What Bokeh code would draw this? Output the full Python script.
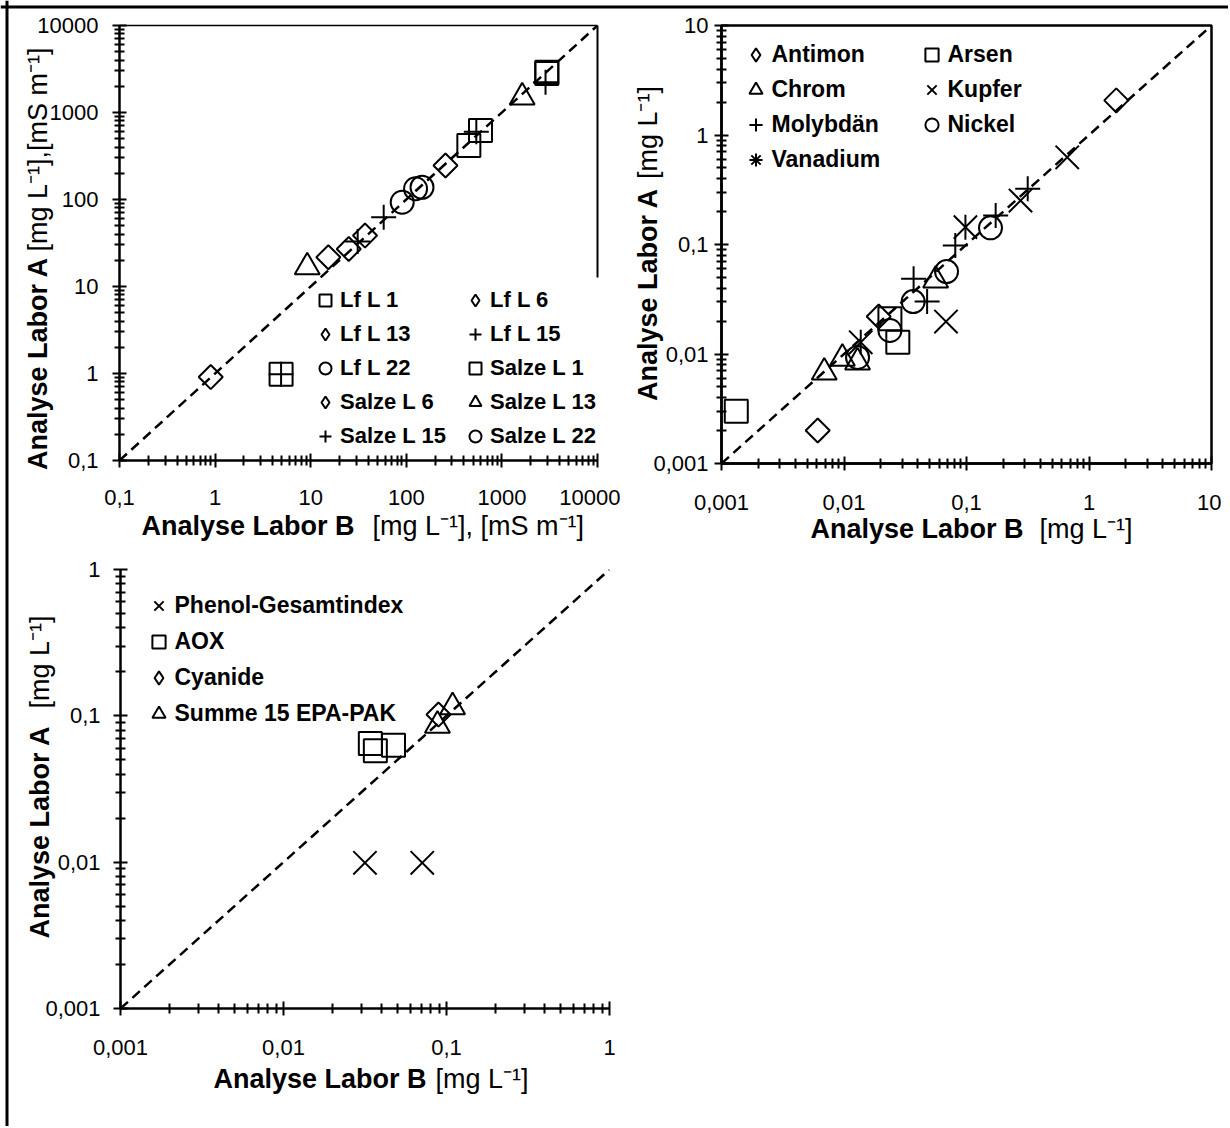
import numpy as np
from bokeh.plotting import figure
from bokeh.models import (Range1d, FixedTicker, CustomJSTickFormatter, LogAxis,
                          Legend, LegendItem, Label, Span)
from bokeh.layouts import row, column
from bokeh.embed import file_html
from bokeh.resources import INLINE

FONT = "Liberation Sans"
SUP = "\u207b\u00b9"

# ---------------- data: panel 1 ----------------
p1_range = [0.1, 10000]
p1_majors = [0.1, 1, 10, 100, 1000, 10000]
lf_l1_x = [2950];            lf_l1_y = [2900]
lf_l6_x = [257];             lf_l6_y = [246]
lf_l13_x = [37];             lf_l13_y = [38.5]
lf_l15_x = [2860];           lf_l15_y = [2230]
lf_l22_x = [146];            lf_l22_y = [138]
salze_l1_x = [2950, 597, 451, 4.9];   salze_l1_y = [2800, 621, 418, 0.98]
salze_l6_x = [25, 15.3, 0.9];         salze_l6_y = [27, 21.7, 0.91]
salze_l13_x = [1630, 9.2];            salze_l13_y = [1500, 16.7]
salze_l15_x = [540, 58, 31, 4.9];     salze_l15_y = [600, 62.7, 33, 0.98]
salze_l22_x = [125, 90.6];            salze_l22_y = [133, 93]

# ---------------- data: panel 2 ----------------
p2_range = [0.001, 10]
p2_majors = [0.001, 0.01, 0.1, 1, 10]
antimon_x = [1.67, 0.0192, 0.0061];          antimon_y = [2.07, 0.022, 0.0020]
arsen_x = [0.0237, 0.0275, 0.00132];         arsen_y = [0.021, 0.0128, 0.0030]
chrom_x = [0.056, 0.0129, 0.0097, 0.0069];   chrom_y = [0.047, 0.0084, 0.0091, 0.0068]
kupfer_x = [0.664, 0.276, 0.068];            kupfer_y = [0.626, 0.252, 0.0198]
molyb_x = [0.316, 0.173, 0.081, 0.037, 0.0477]
molyb_y = [0.323, 0.184, 0.098, 0.0486, 0.0301]
nickel_x = [0.157, 0.0687, 0.0367, 0.0237, 0.0129]
nickel_y = [0.142, 0.0566, 0.0301, 0.0164, 0.0093]
vanad_x = [0.098, 0.0137];                   vanad_y = [0.144, 0.0128]

# ---------------- data: panel 3 ----------------
p3_range = [0.001, 1]
p3_majors = [0.001, 0.01, 0.1, 1]
phenol_x = [0.0316, 0.071];          phenol_y = [0.0099, 0.0099]
aox_x = [0.0341, 0.0366, 0.0473];    aox_y = [0.0648, 0.0578, 0.063]
cyan_x = [0.0893];                   cyan_y = [0.102]
pak_x = [0.109, 0.088];              pak_y = [0.115, 0.086]

# axis titles (text) ----------------
TITLE_B = "Analyse Labor B"
TITLE_A = "Analyse Labor A"
UNIT_1X = "[mg L" + SUP + "], [mS m" + SUP + "]"
UNIT_1Y = "[mg L" + SUP + "],[mS m" + SUP + "]"
UNIT = "[mg L" + SUP + "]"

MK = {
    "square": dict(marker="square", size=23),
    "diamond": dict(marker="square", angle=np.pi / 4, size=17),
    "circle": dict(marker="circle", size=23),
    "plus": dict(marker="cross", size=25),
    "triangle": dict(marker="triangle", size=25),
    "x": dict(marker="x", size=33),
}
STYLE = dict(fill_color=None, line_color="black", line_width=2)


def minor_list(majors):
    out = []
    for d in majors[:-1]:
        out += [k * d for k in range(2, 10)]
    return out


def make_panel(rng, majors, fw, fh, borders, std_x, std_y):
    p = figure(x_axis_type="log", y_axis_type="log",
               x_range=Range1d(*rng), y_range=Range1d(*rng),
               frame_width=fw, frame_height=fh,
               min_border_left=borders[0], min_border_right=borders[1],
               min_border_top=borders[2], min_border_bottom=borders[3],
               output_backend="svg", toolbar_location=None,
               background_fill_color="white", border_fill_color="white")
    p.outline_line_color = None
    p.xgrid.visible = False
    p.ygrid.visible = False
    for ax, std in ((p.xaxis[0], std_x), (p.yaxis[0], std_y)):
        ax.ticker = FixedTicker(ticks=majors, minor_ticks=minor_list(majors))
        ax.formatter = CustomJSTickFormatter(code="return String(tick).replace('.', ',');")
        ax.axis_line_width = 2.5
        ax.axis_line_color = "black"
        ax.major_tick_line_width = 2
        ax.minor_tick_line_width = 2
        ax.major_tick_line_color = "black"
        ax.minor_tick_line_color = "black"
        ax.major_tick_in = 7
        ax.major_tick_out = 7
        ax.minor_tick_in = 5
        ax.minor_tick_out = 5
        ax.major_label_text_font = FONT
        ax.major_label_text_font_size = "22px"
        ax.major_label_text_color = "black"
        ax.major_label_standoff = std
    p.line(rng, rng, line_color="black", line_width=2.5, line_dash="10 6")
    return p


def pts(p, xs, ys, kind):
    """Draw a series; return the renderer to show in the legend."""
    if kind == "star":
        p.scatter(xs, ys, marker="x", size=33, **STYLE)
        p.scatter(xs, ys, marker="dash", angle=np.pi / 2, size=25, **STYLE)
        return p.scatter(xs, ys, marker="asterisk", size=0, **STYLE)
    r = p.scatter(xs, ys, **MK[kind], **STYLE)
    if kind == "diamond":
        return p.scatter(xs, ys, marker="diamond", size=0, **STYLE)
    return r


def at(rng, px, size):
    lo, hi = rng
    return lo * (hi / lo) ** (px / size)


def legend(items, loc, ncols, gw, gh, lw, fs, spacing=0):
    return Legend(items=items, location=loc,
                  orientation="horizontal" if ncols > 1 else "vertical",
                  ncols=ncols, glyph_width=gw, glyph_height=gh, label_standoff=0,
                  spacing=spacing, padding=4, label_width=lw, margin=0,
                  label_text_font=FONT, label_text_font_style="bold",
                  label_text_font_size=fs, label_text_color="black",
                  border_line_color=None, background_fill_alpha=0.0)


def frame_axis(side_line_width, bounds="auto"):
    return LogAxis(ticker=FixedTicker(ticks=[]), major_label_text_font_size="0px",
                   major_tick_line_color=None, minor_tick_line_color=None,
                   major_tick_out=0, minor_tick_out=0, major_tick_in=0, minor_tick_in=0,
                   axis_line_width=side_line_width, axis_line_color="black", bounds=bounds)


# ---------------- panel 1 ----------------
p1 = make_panel(p1_range, p1_majors, 478, 435, (119, 23, 25, 90), 22, 14)
p1.add_layout(frame_axis(1.5), "above")
p1.add_layout(frame_axis(2, (at(p1_range, 183, 435), p1_range[1])), "right")
r = {}
r["Lf L 1"] = pts(p1, lf_l1_x, lf_l1_y, "square")
r["Lf L 6"] = pts(p1, lf_l6_x, lf_l6_y, "diamond")
r["Lf L 13"] = pts(p1, lf_l13_x, lf_l13_y, "diamond")
r["Lf L 15"] = pts(p1, lf_l15_x, lf_l15_y, "plus")
r["Lf L 22"] = pts(p1, lf_l22_x, lf_l22_y, "circle")
r["Salze L 1"] = pts(p1, salze_l1_x, salze_l1_y, "square")
r["Salze L 6"] = pts(p1, salze_l6_x, salze_l6_y, "diamond")
r["Salze L 13"] = pts(p1, salze_l13_x, salze_l13_y, "triangle")
r["Salze L 15"] = pts(p1, salze_l15_x, salze_l15_y, "plus")
r["Salze L 22"] = pts(p1, salze_l22_x, salze_l22_y, "circle")
p1.add_layout(legend([LegendItem(label=k, renderers=[v]) for k, v in r.items()],
                     (191, 7.4), 2, 30, 34, 120, "22px"))

# ---------------- panel 2 ----------------
p2 = make_panel(p2_range, p2_majors, 490, 438, (101, 10, 25, 87), 24, 6)
p2.outline_line_color = "black"
p2.outline_line_width = 2.5
p2.outline_line_alpha = 1.0
r2 = {}
r2["Antimon"] = pts(p2, antimon_x, antimon_y, "diamond")
r2["Arsen"] = pts(p2, arsen_x, arsen_y, "square")
r2["Chrom"] = pts(p2, chrom_x, chrom_y, "triangle")
r2["Kupfer"] = pts(p2, kupfer_x, kupfer_y, "x")
r2["Molybdän"] = pts(p2, molyb_x, molyb_y, "plus")
r2["Nickel"] = pts(p2, nickel_x, nickel_y, "circle")
r2["Vanadium"] = pts(p2, vanad_x, vanad_y, "star")
p2.add_layout(legend([LegendItem(label=k, renderers=[v]) for k, v in r2.items()],
                     (17.5, 286.5), 2, 33, 35, 143, "23px"))

# ---------------- panel 3 ----------------
p3 = make_panel(p3_range, p3_majors, 489, 439, (120, 11, 19, 112), 24, 13)
r3 = {}
r3["Phenol-Gesamtindex"] = pts(p3, phenol_x, phenol_y, "x")
r3["AOX"] = pts(p3, aox_x, aox_y, "square")
r3["Cyanide"] = pts(p3, cyan_x, cyan_y, "diamond")
r3["Summe 15 EPA-PAK"] = pts(p3, pak_x, pak_y, "triangle")
p3.add_layout(legend([LegendItem(label=k, renderers=[v]) for k, v in r3.items()],
                     (21.5, 277), 1, 33, 35, 20, "23px", spacing=1))

# ---------------- overlay: page frame and axis titles ----------------
MAIN_H = 1120
W, H = 1228, 1126
ov = figure(width=W, height=H, x_range=Range1d(0, W), y_range=Range1d(H, 0),
            x_axis_location=None, y_axis_location=None, title_location=None,
            min_border=0, toolbar_location=None, output_backend="svg",
            background_fill_color=None, border_fill_color=None,
            outline_line_color=None, margin=(-MAIN_H, 0, 0, 0))
ov.xgrid.visible = False
ov.ygrid.visible = False
ov.add_layout(Span(location=6.5, dimension="height", line_color="black", line_width=3))
ov.add_layout(Span(location=6.5, dimension="width", line_color="black", line_width=3))

# (x, y, text, align, bold, angle) in page pixels
TITLES = [
    (354, 525, TITLE_B, "right", True, 0), (372, 525, UNIT_1X, "left", False, 0),
    (37, 256.5, TITLE_A, "right", True, np.pi / 2), (37, 251, UNIT_1Y, "left", False, np.pi / 2),
    (1023, 528.6, TITLE_B, "right", True, 0), (1039, 528.6, UNIT, "left", False, 0),
    (647, 187.5, TITLE_A, "right", True, np.pi / 2), (647, 178.6, UNIT, "left", False, np.pi / 2),
    (426, 1078, TITLE_B, "right", True, 0), (435, 1078, UNIT, "left", False, 0),
    (39, 725, TITLE_A, "right", True, np.pi / 2), (39, 708, UNIT, "left", False, np.pi / 2),
]
for x, y, t, al, bold, ang in TITLES:
    ov.add_layout(Label(x=x, y=y, text=t, text_align=al, text_baseline="middle",
                        angle=ang, text_font=FONT, text_font_size="27px",
                        text_font_style="bold" if bold else "normal", text_color="black"))

main = column(row(p1, p2), p3)
root = column(main, ov)

open("out.html", "w").write(file_html(root, INLINE))
